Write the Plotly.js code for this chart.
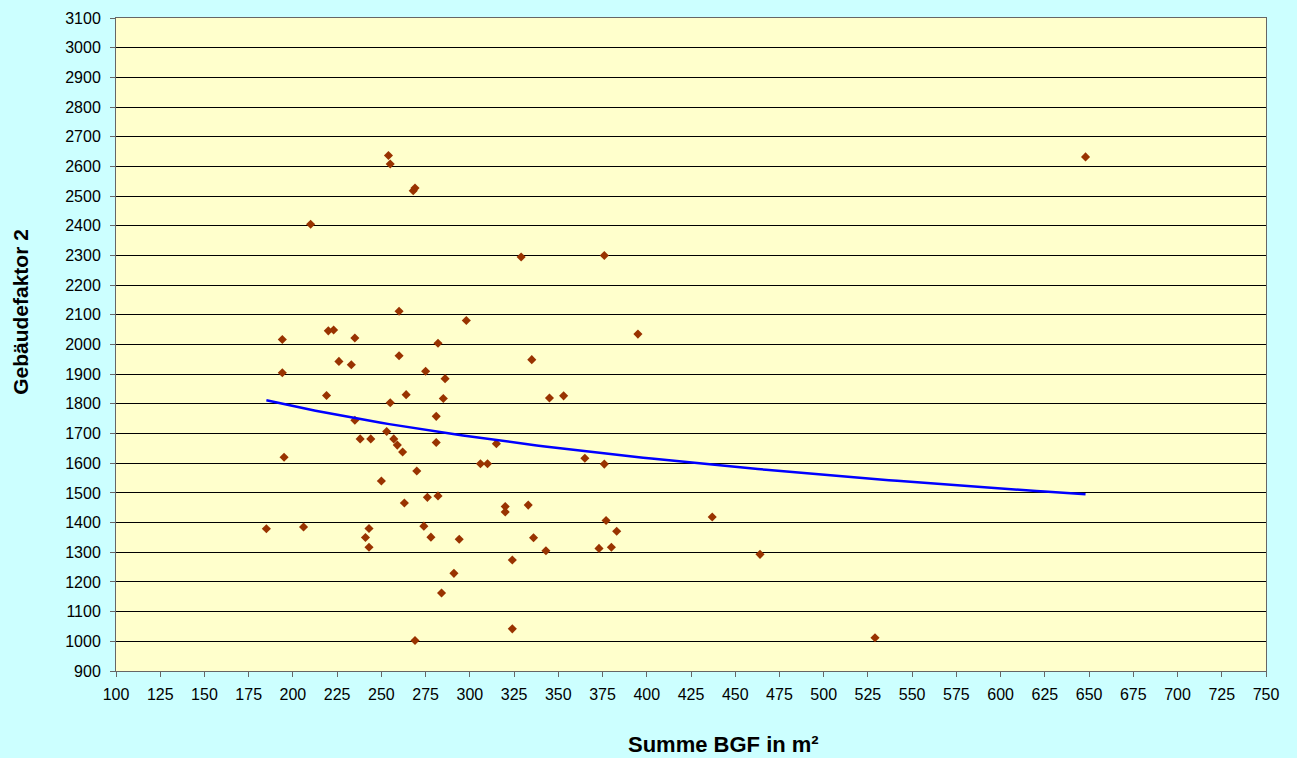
<!DOCTYPE html>
<html>
<head>
<meta charset="utf-8">
<script src="https://cdn.plot.ly/plotly-3.0.1.min.js"></script>
<style>
html,body{margin:0;padding:0;background:#CCFFFF;}
#chart{width:1297px;height:758px;}
</style>
</head>
<body>
<div id="chart"></div>
<script>
// Summe BGF in m² (x) and Gebäudefaktor 2 (y)
var bgf = [185,194,194,195,206,210,219,220,223,226,233,235,235,238,241,243,243,244,250,253,
           254,255,255,257,259,260,260,262,263,264,268,269,269,270,274,275,276,278,281,281,
           282,282,284,285,286,291,294,298,306,310,315,320,320,324,324,329,333,335,336,343,
           345,353,365,373,376,376,377,380,383,395,437,464,529,648];
var faktor = [1379,2017,1905,1620,1385,2405,1828,2046,2049,1943,1932,2022,1745,1682,1350,1380,1317,1682,1540,1707,
              2637,2608,1804,1682,1661,2112,1962,1638,1466,1831,2518,2527,1003,1574,1388,1910,1485,1351,1758,1670,
              2004,1490,1163,1818,1885,1229,1344,2081,1598,1598,1666,1454,1436,1274,1042,2295,1459,1949,1349,1305,
              1820,1827,1617,1313,2300,1597,1407,1317,1371,2035,1419,1293,1012,2632];

var xTickVals = [100,125,150,175,200,225,250,275,300,325,350,375,400,425,450,475,500,525,550,575,600,625,650,675,700,725,750];
var yTickVals = [900,1000,1100,1200,1300,1400,1500,1600,1700,1800,1900,2000,2100,2200,2300,2400,2500,2600,2700,2800,2900,3000,3100];

// Logarithmic trendline (least squares of y on ln x), as a spreadsheet trendline does
var n = bgf.length, sx=0, sy=0, sxx=0, sxy=0;
for (var i=0;i<n;i++){var lx=Math.log(bgf[i]), yy=faktor[i]; sx+=lx; sy+=yy; sxx+=lx*lx; sxy+=lx*yy;}
var d = (n*sxy - sx*sy)/(n*sxx - sx*sx);
var c = (sy - d*sx)/n;
var xmin = Math.min.apply(null,bgf), xmax = Math.max.apply(null,bgf);
var tx=[], ty=[];
for (var k=0;k<=100;k++){var xv = xmin + (xmax-xmin)*k/100; tx.push(xv); ty.push(c + d*Math.log(xv));}

var traces = [
  {x: bgf, y: faktor, type:'scatter', mode:'markers',
   marker:{symbol:'diamond', size:7, color:'#993300', line:{width:0}}, hoverinfo:'x+y'},
  {x: tx, y: ty, type:'scatter', mode:'lines', line:{color:'#0000FF', width:2.5}, hoverinfo:'skip'}
];

var font = {family:'"Liberation Sans", Arial, sans-serif', size:16, color:'#000'};
var layout = {
  width:1297, height:758,
  paper_bgcolor:'#CCFFFF', plot_bgcolor:'#FFFFCC',
  margin:{l:116, r:31, t:18, b:87},
  showlegend:false,
  font: font,
  xaxis:{range:[100,750], tickvals:xTickVals, ticktext:xTickVals.map(String),
         showgrid:false, zeroline:false, showline:true, linecolor:'#666', linewidth:1, mirror:true,
         ticks:'outside', ticklen:5, tickcolor:'#666', tickfont:font, ticklabelstandoff:4},
  yaxis:{range:[900,3100], tickvals:yTickVals, ticktext:yTickVals.map(String),
         showgrid:true, gridcolor:'#000', gridwidth:1, zeroline:false, showline:true, linecolor:'#666', linewidth:1, mirror:true,
         ticks:'outside', ticklen:5, tickcolor:'#666', tickfont:font, ticklabelstandoff:6},
  annotations:[
    {text:'<b>Summe BGF in m²</b>', xref:'paper', yref:'paper', x:0.528, y:-0.1118, xanchor:'center', yanchor:'middle',
     showarrow:false, font:{family:'"Liberation Sans", Arial, sans-serif', size:22, color:'#000'}},
    {text:'<b>Gebäudefaktor 2</b>', xref:'paper', yref:'paper', x:-0.0826, y:0.55, xanchor:'center', yanchor:'middle',
     textangle:-90, showarrow:false, font:{family:'"Liberation Sans", Arial, sans-serif', size:21, color:'#000'}}
  ]
};
Plotly.newPlot('chart', traces, layout, {displayModeBar:false, staticPlot:true});
</script>
</body>
</html>
